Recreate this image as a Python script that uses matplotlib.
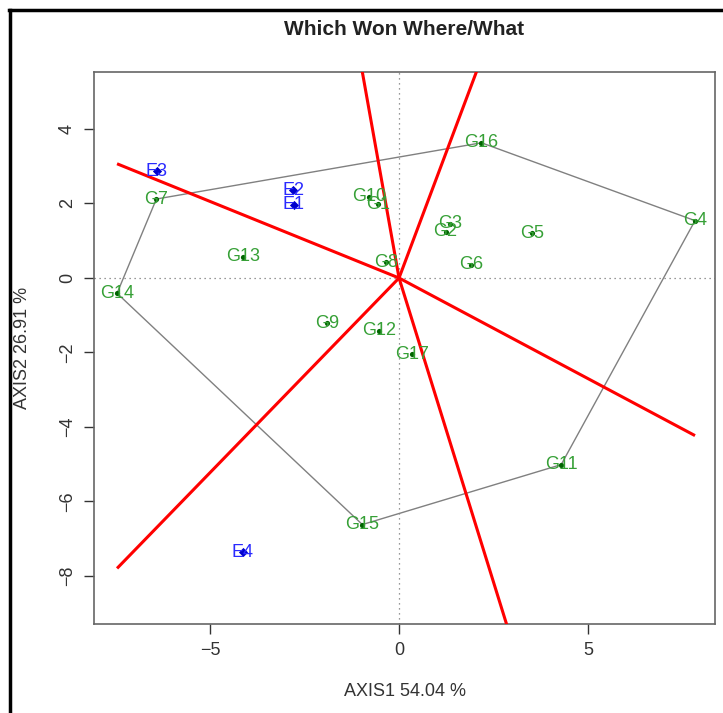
import numpy as np
import matplotlib
matplotlib.use("Agg")
import matplotlib.pyplot as plt
from matplotlib.lines import Line2D

plt.rcParams['font.family'] = ['Liberation Sans', 'DejaVu Sans']

# Genotype scores
gen_names = ["G1", "G2", "G3", "G4", "G5", "G6", "G7", "G8", "G9", "G10",
             "G11", "G12", "G13", "G14", "G15", "G16", "G17"]
gen_x = [-0.55, 1.23, 1.34, 7.83, 3.51, 1.90, -6.42, -0.35, -1.90, -0.79,
         4.29, -0.54, -4.13, -7.46, -0.97, 2.18, 0.35]
gen_y = [1.98, 1.24, 1.45, 1.54, 1.20, 0.35, 2.12, 0.42, -1.21, 2.18,
         -5.01, -1.42, 0.57, -0.41, -6.62, 3.63, -2.05]

# Environment scores
env_names = ["E1", "E2", "E3", "E4"]
env_x = [-2.78, -2.80, -6.41, -4.13]
env_y = [1.96, 2.36, 2.87, -7.36]

title = "Which Won Where/What"
xlabel = "AXIS1 54.04 %"
ylabel = "AXIS2 26.91 %"
xticks = [-5, 0, 5]
yticks = [-8, -6, -4, -2, 0, 2, 4]


def convex_hull(pts):
    pts = sorted(set(pts))
    def cross(o, a, b):
        return (a[0]-o[0])*(b[1]-o[1]) - (a[1]-o[1])*(b[0]-o[0])
    lower = []
    for p in pts:
        while len(lower) >= 2 and cross(lower[-2], lower[-1], p) <= 0:
            lower.pop()
        lower.append(p)
    upper = []
    for p in reversed(pts):
        while len(upper) >= 2 and cross(upper[-2], upper[-1], p) <= 0:
            upper.pop()
        upper.append(p)
    return lower[:-1] + upper[:-1]


fig = plt.figure(figsize=(7.23, 7.13), dpi=100)
ax = fig.add_axes([0.130, 0.1248, 0.859, 0.7742])

ax.set_xlim(-8.07, 8.36)
ax.set_ylim(-9.29, 5.53)

# reference dotted lines
ax.axhline(0, color="#777777", ls=(0, (1, 3)), lw=0.9, zorder=1)
ax.axvline(0, color="#777777", ls=(0, (1, 3)), lw=0.9, zorder=1)

# hull
hull = convex_hull(list(zip(gen_x, gen_y)))
hx = [p[0] for p in hull] + [hull[0][0]]
hy = [p[1] for p in hull] + [hull[0][1]]
ax.plot(hx, hy, color="#808080", lw=1.0, zorder=2)

# perpendicular lines from origin to hull edges
xmin, xmax = min(gen_x), max(gen_x)
for i in range(len(hull)):
    p1 = np.array(hull[i]); p2 = np.array(hull[(i + 1) % len(hull)])
    d = p2 - p1
    t = -np.dot(p1, d) / np.dot(d, d)
    foot = p1 + t * d
    u = foot / np.linalg.norm(foot)
    lim = xmin if u[0] < 0 else xmax
    s = lim / u[0]
    ax.plot([0, u[0] * s], [0, u[1] * s], color="#ff0000", lw=2.2, zorder=3,
            solid_capstyle="butt")

# genotype points and labels
ax.scatter(gen_x, gen_y, s=14, color="#006400", zorder=4, linewidths=0)
for n, x, y in zip(gen_names, gen_x, gen_y):
    ax.text(x, y, n, color="#36a036", fontsize=13, ha="center", va="center", zorder=5)

# environment points and labels
ax.scatter(env_x, env_y, s=22, marker="D", color="#0000cc", zorder=4, linewidths=0)
for n, x, y in zip(env_names, env_x, env_y):
    ax.text(x, y, n, color="#2a2aff", fontsize=13, ha="center", va="center", zorder=5)

ax.set_xticks(xticks)
ax.set_yticks(yticks)
ax.set_xticklabels([f"{v}".replace("-", "\u2212") for v in xticks])
ax.set_yticklabels([f"{v}".replace("-", "\u2212") for v in yticks], rotation=90, va="center")
ax.tick_params(direction="out", length=7, width=1, colors="#333333", labelsize=13,
               labelcolor="#333333", pad=6)
for sp in ax.spines.values():
    sp.set_color("#666666")
    sp.set_linewidth(1.2)

ax.set_xlabel(xlabel, fontsize=13, color="#333333", labelpad=17)
ax.set_ylabel(ylabel, fontsize=13, color="#333333", labelpad=20)
fig.text(0.5595, 0.959, title, fontsize=15, fontweight="bold", ha="center",
         va="center", color="#222222")

# outer frame lines (top and left)
fig.add_artist(Line2D([0.0125, 1.0], [0.986, 0.986], color="black", lw=2.5,
                      transform=fig.transFigure))
fig.add_artist(Line2D([0.0138, 0.0138], [0.0, 0.986], color="black", lw=2.5,
                      transform=fig.transFigure))

fig.savefig("out.png", dpi=100)
